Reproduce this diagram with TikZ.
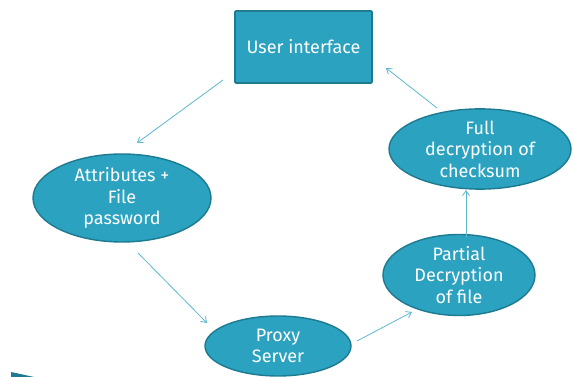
\documentclass[tikz,border=0pt]{standalone}
\usepackage{fontspec}
\setmainfont{Fira Sans}
\usetikzlibrary{arrows.meta,shapes.geometric}

\definecolor{tealfill}{HTML}{2BA2BF}
\definecolor{tealedge}{HTML}{1D7A90}
\definecolor{linkcol}{HTML}{5BB8D0}

\tikzset{
    box/.style={draw=tealedge,line width=1.6pt,fill=tealfill,rounded corners=1pt,
        minimum width=137pt,minimum height=72pt,text=white,font=\fontsize{18}{21.5}\selectfont},
    blob/.style={ellipse,draw=tealedge,line width=1.4pt,fill=tealfill,inner sep=0pt,
        text=white,align=center,font=\fontsize{18}{21.5}\selectfont},
    link/.style={->,draw=linkcol,line width=0.8pt,>={Straight Barb[length=5pt,width=7pt]}}
}

\begin{document}
\begin{tikzpicture}[x=1pt,y=1pt]
        \useasboundingbox (0,0) rectangle (573,377);

        \node[box]  (ui)    at (303.5,330)  {User interface};
        \node[blob,minimum width=178pt,minimum height=88pt] (attr) at (122,179)
            {Attributes +\\File\\password};
        \node[blob,minimum width=146pt,minimum height=60pt] (proxy) at (278,31)
            {Proxy\\Server};
        \node[blob,minimum width=152pt,minimum height=76pt] (part) at (459,102)
            {Partial\\Decryption\\of file};
        \node[blob,minimum width=182pt,minimum height=75pt] (full) at (480,228)
            {Full\\decryption of\\checksum};

        % free ends of the connectors
        \coordinate (a0) at (223,297);
        \coordinate (a1) at (137,234);
        \coordinate (b0) at (138,124);
        \coordinate (b1) at (207,54);
        \coordinate (c0) at (357,36);
        \coordinate (c1) at (412,65);
        \coordinate (d0) at (466,140);
        \coordinate (d1) at (466,187);
        \coordinate (e0) at (437,269);
        \coordinate (e1) at (386,309);

        \draw[link] (a0) -- (a1);
        \draw[link] (b0) -- (b1);
        \draw[link] (c0) -- (c1);
        \draw[link] (d0) -- (d1);
        \draw[link] (e0) -- (e1);

        % edge of a shape cut off at the corner
        \fill[tealedge] (11,0) -- (11,5) -- (34,0) -- cycle;
    \end{tikzpicture}
\end{document}
